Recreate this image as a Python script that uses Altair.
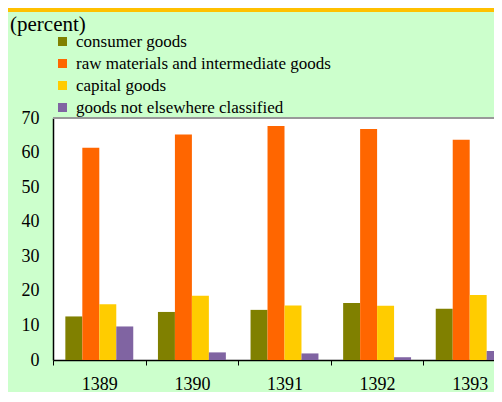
import altair as alt
import pandas as pd

years = ["1389", "1390", "1391", "1392", "1393"]
categories = [
    "consumer goods",
    "raw materials and intermediate goods",
    "capital goods",
    "goods not elsewhere classified",
]
consumer_goods = [12.6, 13.9, 14.5, 16.5, 14.8]
raw_intermediate = [61.4, 65.2, 67.7, 66.8, 63.7]
capital_goods = [16.1, 18.6, 15.8, 15.7, 18.8]
not_classified = [9.7, 2.2, 1.9, 0.8, 2.6]
y_ticks = [0, 10, 20, 30, 40, 50, 60, 70]

colors = ["#808000", "#FF6600", "#FFCC00", "#8064A2"]
series = [consumer_goods, raw_intermediate, capital_goods, not_classified]

rows = []
for i, yr in enumerate(years):
    for cat, vals in zip(categories, series):
        rows.append({"year": yr, "category": cat, "value": vals[i]})
df = pd.DataFrame(rows)

FONT = "Liberation Serif, Times New Roman, serif"
STEP = 92.6

y_scale = alt.Scale(domain=[0, 70], nice=False)
y_axis = alt.Axis(
    title=None,
    values=y_ticks,
    tickCount=8,
    ticks=False,
    grid=False,
    labelOverlap=False,
    labelFlush=False,
    domainColor="black",
    domainWidth=1.5,
    labelPadding=14,
    labelFont=FONT,
    labelFontSize=18,
    labelColor="black",
)

bars = alt.Chart(df).mark_bar(clip=True).encode(
    x=alt.X(
        "year:N",
        sort=years,
        scale=alt.Scale(range=[0, STEP * 5], paddingInner=0, paddingOuter=0),
        axis=alt.Axis(
            title=None,
            labelAngle=0,
            tickBand="extent",
            ticks=True,
            tickSize=5,
            tickColor="black",
            domainColor="black",
            domainWidth=1.5,
            labelPadding=10,
            labelFont=FONT,
            labelFontSize=18,
            labelColor="black",
        ),
    ),
    xOffset=alt.XOffset(
        "category:N",
        sort=categories,
        scale=alt.Scale(paddingOuter=0.727, paddingInner=0),
    ),
    y=alt.Y("value:Q", scale=y_scale, axis=y_axis),
    color=alt.Color(
        "category:N",
        sort=categories,
        scale=alt.Scale(domain=categories, range=colors),
        legend=alt.Legend(
            title=None,
            orient="none",
            legendX=1,
            legendY=-85,
            padding=0,
            symbolType="square",
            symbolSize=81,
            symbolStrokeWidth=0,
            symbolOpacity=1,
            labelFont=FONT,
            labelFontSize=17,
            labelColor="black",
            labelLimit=500,
            labelOffset=5,
            rowPadding=4,
        ),
    ),
)

top_line = alt.Chart(df).mark_rule(color="#999999", strokeWidth=2).encode(
    y=alt.YDatum(70, scale=y_scale, axis=y_axis)
)

strip = alt.Chart(df).mark_rect(color="#FFC000").encode(
    x=alt.value(-45), x2=alt.value(441), y=alt.value(-110), y2=alt.value(-106)
)

chart = (
    alt.layer(bars, top_line, strip)
    .properties(
        width=441,
        height=242,
        padding={"left": 45, "top": 110, "right": 0, "bottom": 32},
        autosize=alt.AutoSizeParams(type="none"),
        background="#CCFFCC",
        title=alt.Title(
            "(percent)",
            anchor="start",
            frame="group",
            font=FONT,
            fontSize=21,
            fontWeight="normal",
            color="black",
            baseline="alphabetic",
            dx=-43,
            dy=48,
        ),
    )
    .configure_view(fill="white", stroke=None)
    .configure_axisY(labelOverlap=False)
)

chart.save("out.html", embed_options={"renderer": "svg", "actions": False})
